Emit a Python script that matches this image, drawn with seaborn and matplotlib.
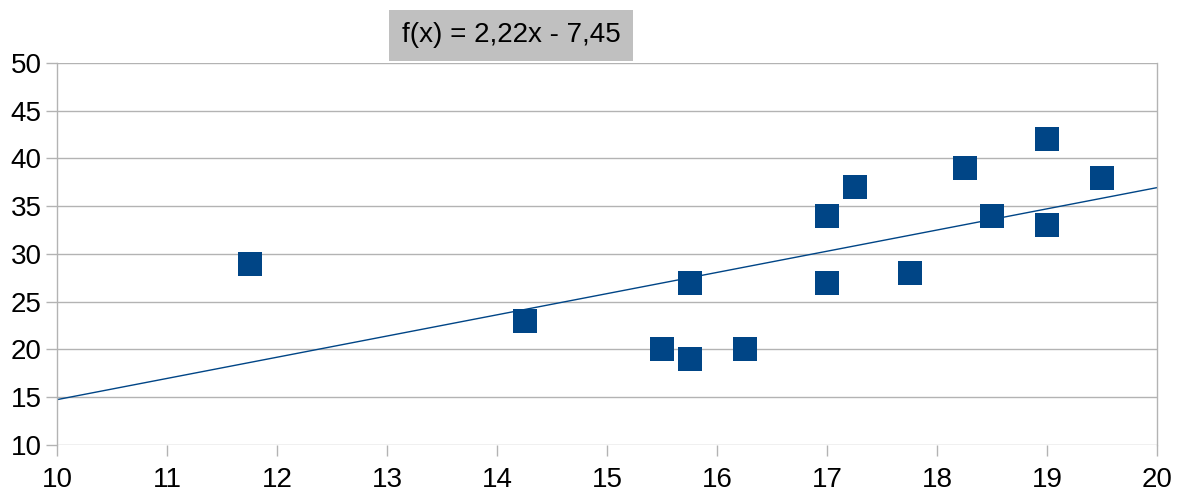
import matplotlib.pyplot as plt
import numpy as np
import pandas as pd
import seaborn as sns

# data
x_vals = [11.75, 14.25, 15.5, 15.75, 15.75, 16.25, 17, 17, 17.25, 17.75, 18.25, 18.5, 19, 19, 19.5]
y_vals = [29, 23, 20, 27, 19, 20, 34, 27, 37, 28, 39, 34, 42, 33, 38]
slope = 2.22
intercept = -7.45
x_ticks = list(range(10, 21))
y_ticks = list(range(10, 51, 5))

df = pd.DataFrame({'x': x_vals, 'y': y_vals})

sns.set_style('white')
plt.rcParams['font.family'] = ['Liberation Sans', 'DejaVu Sans']

fig = plt.figure(figsize=(11.79, 4.91), dpi=100)
ax = fig.add_axes([57 / 1179, 46 / 491, 1100 / 1179, 382 / 491])

blue = '#004586'
grid = '#b3b3b3'

# trend line across the full x range
line_x = np.array([x_ticks[0], x_ticks[-1]])
ax.plot(line_x, slope * line_x + intercept, color=blue, lw=1, zorder=2)

sns.scatterplot(data=df, x='x', y='y', ax=ax, marker='s', s=290,
                color=blue, edgecolor=blue, linewidth=0, zorder=3)

ax.set_xlim(10, 20)
ax.set_ylim(10, 50)
ax.set_xticks(x_ticks)
ax.set_yticks(y_ticks)
ax.yaxis.grid(True, color=grid, lw=1)
ax.xaxis.grid(False)
ax.set_axisbelow(True)
ax.set_xlabel('')
ax.set_ylabel('')

for side in ['left', 'right']:
    ax.spines[side].set_color(grid)
    ax.spines[side].set_linewidth(1)
ax.spines['top'].set_visible(False)
ax.spines['bottom'].set_visible(False)

ax.tick_params(axis='both', direction='out', length=8, width=1, color=grid,
               labelsize=20, labelcolor='black', bottom=True, left=True)
ax.tick_params(axis='y', pad=3)
ax.tick_params(axis='x', pad=8)

fig.text(511 / 1179, 1 - 35 / 491, 'f(x) = 2,22x - 7,45', ha='center', va='center',
         fontsize=20, color='black',
         bbox=dict(boxstyle='square,pad=0.45', facecolor='#c0c0c0', edgecolor='none'))

fig.savefig('out.png', dpi=100)
